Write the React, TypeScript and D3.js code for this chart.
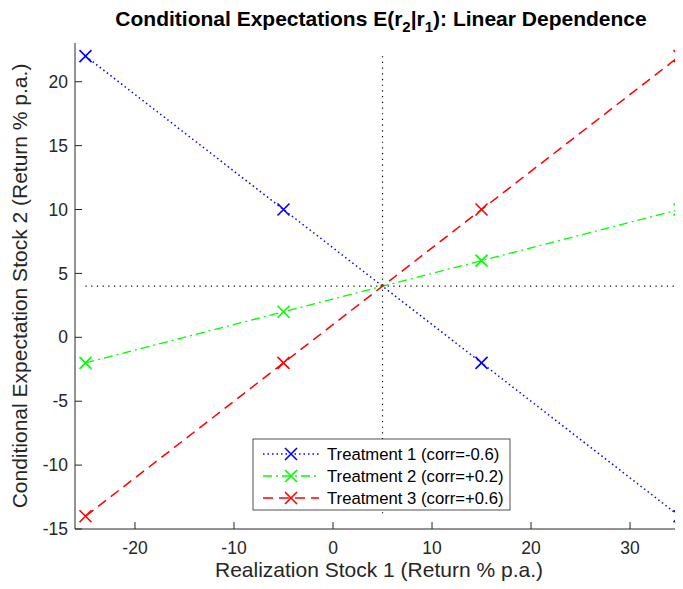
import React, { useRef, useEffect } from 'react';
import * as d3 from 'd3';

// realization points of stock 1
const xValues = [-25, -5, 15, 35];
// conditional expectations of stock 2, one list per treatment
const treatment1 = [22, 10, -2, -14];
const treatment2 = [-2, 2, 6, 10];
const treatment3 = [-14, -2, 10, 22];
const seriesNames = [
  'Treatment 1 (corr=-0.6)',
  'Treatment 2 (corr=+0.2)',
  'Treatment 3 (corr=+0.6)',
];
const seriesColors = ['#0000ff', '#00ff00', '#ff0000'];
const seriesDash = ['1.5,3', '9,4,2,4', '10,6'];
const xTicks = [-20, -10, 0, 10, 20, 30];
const yTicks = [-15, -10, -5, 0, 5, 10, 15, 20];
// crosshair at the mean point
const meanX = 5;
const meanY = 4;

const width = 683;
const height = 589;
const axisColor = '#262626';
const font = 'Arial, "Liberation Sans", Helvetica, sans-serif';

const App = () => {
  const svgRef = useRef<SVGSVGElement>(null);

  useEffect(() => {
    const svg = d3.select(svgRef.current);
    svg.selectAll('*').remove();

    const x = d3.scaleLinear().domain([-26.06, 35.35]).range([75, 683]);
    const y = d3.scaleLinear().domain([-15, 23.03]).range([529, 43]);

    svg.append('rect').attr('width', width).attr('height', height).attr('fill', '#fff');

    // crosshair
    svg.append('line')
      .attr('x1', x(xValues[0])).attr('x2', x(xValues[xValues.length - 1]))
      .attr('y1', y(meanY)).attr('y2', y(meanY))
      .attr('stroke', '#000').attr('stroke-width', 1.2).attr('stroke-dasharray', '1.2,4.5');
    svg.append('line')
      .attr('x1', x(meanX)).attr('x2', x(meanX))
      .attr('y1', y(22)).attr('y2', y(-14))
      .attr('stroke', '#000').attr('stroke-width', 1.2).attr('stroke-dasharray', '1.2,4.5');

    const series = [treatment1, treatment2, treatment3];
    const line = d3.line<number>().x((d, i) => x(xValues[i])).y((d) => y(d));

    const drawX = (g: any, cx: number, cy: number, color: string, r = 6) => {
      g.append('path')
        .attr('d', `M${cx - r},${cy - r}L${cx + r},${cy + r}M${cx - r},${cy + r}L${cx + r},${cy - r}`)
        .attr('stroke', color).attr('stroke-width', 1.6).attr('fill', 'none');
    };

    series.forEach((vals, k) => {
      svg.append('path')
        .datum(vals)
        .attr('d', line)
        .attr('fill', 'none')
        .attr('stroke', seriesColors[k])
        .attr('stroke-width', 1.5)
        .attr('stroke-dasharray', seriesDash[k]);
      vals.forEach((v, i) => drawX(svg, x(xValues[i]), y(v), seriesColors[k]));
    });

    // axes (box off, ticks pointing inward)
    const xAxis = svg.append('g').attr('transform', 'translate(0,529)');
    xAxis.append('line').attr('x1', 75).attr('x2', 683).attr('stroke', axisColor).attr('stroke-width', 1);
    xTicks.forEach((t) => {
      xAxis.append('line').attr('x1', x(t)).attr('x2', x(t)).attr('y1', 0).attr('y2', -7)
        .attr('stroke', axisColor);
      xAxis.append('text').attr('x', x(t)).attr('y', 25).attr('text-anchor', 'middle')
        .attr('font-family', font).attr('font-size', 17.5).attr('fill', axisColor).text(t);
    });

    const yAxis = svg.append('g').attr('transform', 'translate(75,0)');
    yAxis.append('line').attr('y1', 43).attr('y2', 529).attr('stroke', axisColor).attr('stroke-width', 1);
    yTicks.forEach((t) => {
      yAxis.append('line').attr('x1', 0).attr('x2', 7).attr('y1', y(t)).attr('y2', y(t))
        .attr('stroke', axisColor);
      yAxis.append('text').attr('x', -7).attr('y', y(t)).attr('dy', '0.35em').attr('text-anchor', 'end')
        .attr('font-family', font).attr('font-size', 17.5).attr('fill', axisColor).text(t);
    });

    // axis labels
    svg.append('text').attr('x', 379).attr('y', 577).attr('text-anchor', 'middle')
      .attr('font-family', font).attr('font-size', 21).attr('fill', axisColor)
      .text('Realization Stock 1 (Return % p.a.)');
    svg.append('text').attr('transform', 'translate(27,286) rotate(-90)').attr('text-anchor', 'middle')
      .attr('font-family', font).attr('font-size', 21).attr('fill', axisColor)
      .text('Conditional Expectation Stock 2 (Return % p.a.)');

    // title with subscripts
    const title = svg.append('text').attr('x', 381).attr('y', 26).attr('text-anchor', 'middle')
      .attr('font-family', font).attr('font-size', 21).attr('font-weight', 'bold').attr('fill', '#000');
    title.append('tspan').text('Conditional Expectations E(r');
    title.append('tspan').attr('dy', 6).attr('font-size', 15).text('2');
    title.append('tspan').attr('dy', -6).text('|r');
    title.append('tspan').attr('dy', 6).attr('font-size', 15).text('1');
    title.append('tspan').attr('dy', -6).text('): Linear Dependence');

    // legend
    const lg = svg.append('g').attr('transform', 'translate(253,439)');
    lg.append('rect').attr('width', 257).attr('height', 71).attr('fill', '#fff')
      .attr('stroke', axisColor).attr('stroke-width', 0.8);
    seriesNames.forEach((name, k) => {
      const ry = 15 + k * 22;
      lg.append('line').attr('x1', 10).attr('x2', 66).attr('y1', ry).attr('y2', ry)
        .attr('stroke', seriesColors[k]).attr('stroke-width', 1.5).attr('stroke-dasharray', seriesDash[k]);
      drawX(lg, 38, ry, seriesColors[k]);
      lg.append('text').attr('x', 74).attr('y', ry).attr('dy', '0.35em')
        .attr('font-family', font).attr('font-size', 16.7).attr('fill', '#000').text(name);
    });
  }, []);

  return <svg ref={svgRef} width={width} height={height} style={{ display: 'block', margin: '-8px' }} />;
};

export default App;
